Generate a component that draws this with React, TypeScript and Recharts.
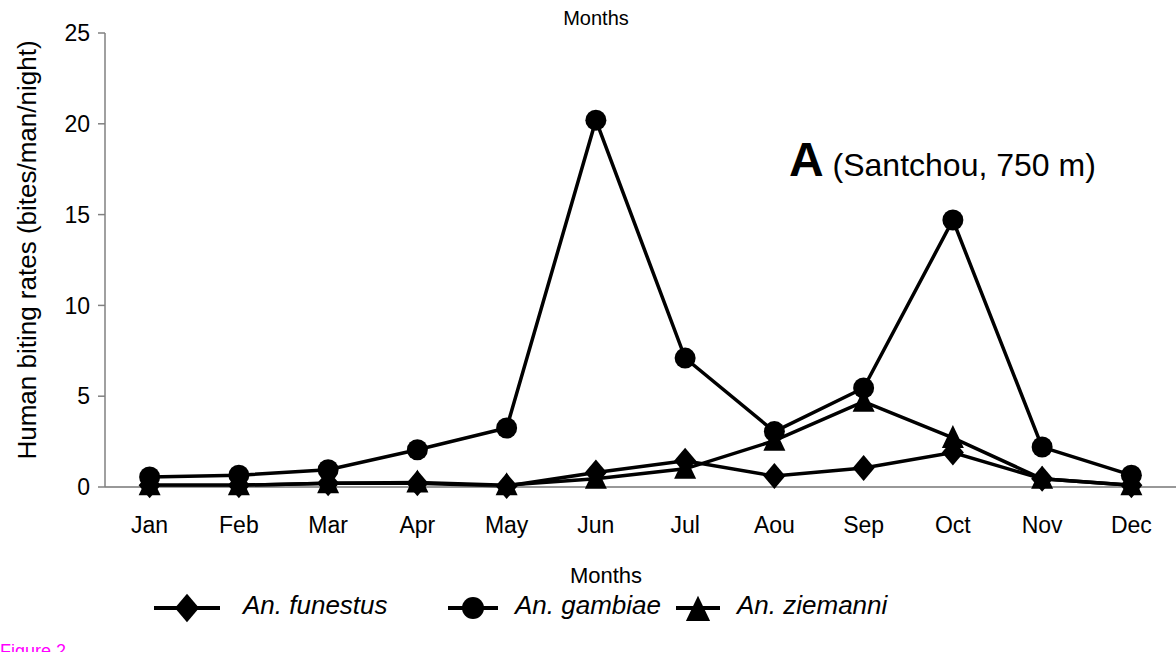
import React from 'react';
import { LineChart, Line, XAxis, YAxis } from 'recharts';

const months = ['Jan', 'Feb', 'Mar', 'Apr', 'May', 'Jun', 'Jul', 'Aou', 'Sep', 'Oct', 'Nov', 'Dec'];
const funestus = [0.1, 0.1, 0.2, 0.2, 0.05, 0.8, 1.45, 0.6, 1.05, 1.9, 0.45, 0.1];
const gambiae = [0.55, 0.65, 0.95, 2.05, 3.25, 20.2, 7.1, 3.05, 5.45, 14.7, 2.2, 0.65];
const ziemanni = [0.1, 0.1, 0.2, 0.25, 0.1, 0.45, 1.0, 2.55, 4.7, 2.7, 0.45, 0.1];
const yTicks = [0, 5, 10, 15, 20, 25];
const edgeTicks = [0, 1, 2, 3, 4, 5, 6, 7, 8, 9, 10, 11, 12];

const data = months.map((m, i) => ({
  month: m,
  funestus: funestus[i],
  gambiae: gambiae[i],
  ziemanni: ziemanni[i],
}));

const FONT = '"Liberation Sans", Arial, Helvetica, sans-serif';

const Diamond = (props: any) => {
  const { cx, cy, s = 1 } = props;
  if (cx == null || cy == null) return null;
  return <polygon points={`${cx},${cy - 13 * s} ${cx + 11 * s},${cy} ${cx},${cy + 13 * s} ${cx - 11 * s},${cy}`} fill="#000" />;
};
const Circle = (props: any) => {
  const { cx, cy, s = 1 } = props;
  if (cx == null || cy == null) return null;
  return <circle cx={cx} cy={cy} r={10.5 * s} fill="#000" />;
};
const Triangle = (props: any) => {
  const { cx, cy, s = 1 } = props;
  if (cx == null || cy == null) return null;
  return <polygon points={`${cx},${cy - 13 * s} ${cx + 11 * s},${cy + 10 * s} ${cx - 11 * s},${cy + 10 * s}`} fill="#000" />;
};

const LegendItem = ({ left, lineW, shape }: any) => (
  <div style={{ position: 'absolute', left, top: 588, height: 40 }}>
    <svg width={lineW} height={40} style={{ display: 'block' }}>
      <line x1={0} y1={20} x2={lineW} y2={20} stroke="#000" strokeWidth={4} />
      {shape === 'diamond' && <Diamond cx={lineW / 2} cy={20} s={1.1} />}
      {shape === 'circle' && <Circle cx={lineW / 2} cy={20} s={1.05} />}
      {shape === 'triangle' && <Triangle cx={lineW / 2} cy={22} s={1.1} />}
    </svg>
  </div>
);

const LegendText = ({ left, label }: any) => (
  <div style={{ position: 'absolute', left, top: 590, fontSize: 26, fontStyle: 'italic', fontFamily: FONT, color: '#000', whiteSpace: 'nowrap', lineHeight: '30px' }}>
    {label}
  </div>
);

export default function App() {
  return (
    <div style={{ position: 'absolute', left: 0, top: 0, width: 1176, height: 652, background: '#fff', overflow: 'hidden', fontFamily: FONT }}>
      <LineChart width={1176} height={652} data={data} margin={{ top: 33, right: 0, left: 45, bottom: 135 }}>
        <XAxis
          xAxisId="edge"
          type="number"
          domain={[0, 12]}
          ticks={edgeTicks}
          allowDataOverflow
          height={0}
          axisLine={false}
          tickSize={7}
          tickLine={{ stroke: '#333', strokeWidth: 1 }}
          tickFormatter={() => ''}
        />
        <XAxis
          dataKey="month"
          scale="band"
          height={30}
          axisLine={{ stroke: '#333', strokeWidth: 1.2 }}
          tickLine={false}
          tickSize={6}
          tickMargin={24}
          interval={0}
          tick={{ fill: '#000', fontSize: 23, fontFamily: FONT }}
        />
        <YAxis
          width={60}
          domain={[0, 25]}
          ticks={yTicks}
          interval={0}
          axisLine={{ stroke: '#808080', strokeWidth: 1.5 }}
          tickLine={{ stroke: '#808080', strokeWidth: 1.5 }}
          tickSize={7}
          tickMargin={8}
          tick={{ fill: '#000', fontSize: 23, fontFamily: FONT }}
        />
        <Line dataKey="funestus" stroke="#000" strokeWidth={3.5} dot={<Diamond />} activeDot={false} isAnimationActive={false} />
        <Line dataKey="ziemanni" stroke="#000" strokeWidth={3.5} dot={<Triangle />} activeDot={false} isAnimationActive={false} />
        <Line dataKey="gambiae" stroke="#000" strokeWidth={3.5} dot={<Circle />} activeDot={false} isAnimationActive={false} />
      </LineChart>

      <div style={{ position: 'absolute', left: 596, top: 7, transform: 'translateX(-50%)', fontSize: 20, color: '#000', whiteSpace: 'nowrap' }}>Months</div>
      <div style={{ position: 'absolute', left: 606, top: 563, transform: 'translateX(-50%)', fontSize: 22, color: '#000', whiteSpace: 'nowrap', lineHeight: '26px' }}>Months</div>
      <div style={{ position: 'absolute', left: 27, top: 250, transform: 'translate(-50%, -50%) rotate(-90deg)', fontSize: 26, color: '#000', whiteSpace: 'nowrap' }}>
        Human biting rates (bites/man/night)
      </div>
      <div style={{ position: 'absolute', left: 789, top: 132, whiteSpace: 'nowrap', color: '#000' }}>
        <span style={{ fontSize: 48, fontWeight: 'bold' }}>A</span>
        <span style={{ fontSize: 32 }}>{' '}(Santchou, 750 m)</span>
      </div>

      <LegendItem left={154} lineW={66} shape="diamond" />
      <LegendText left={243} label="An. funestus" />
      <LegendItem left={448} lineW={50} shape="circle" />
      <LegendText left={515} label="An. gambiae" />
      <LegendItem left={676} lineW={44} shape="triangle" />
      <LegendText left={737} label="An. ziemanni" />

      <div style={{ position: 'absolute', left: 0, top: 641, fontSize: 18, color: '#ff00ff', whiteSpace: 'nowrap', lineHeight: '20px' }}>Figure 2</div>
    </div>
  );
}
